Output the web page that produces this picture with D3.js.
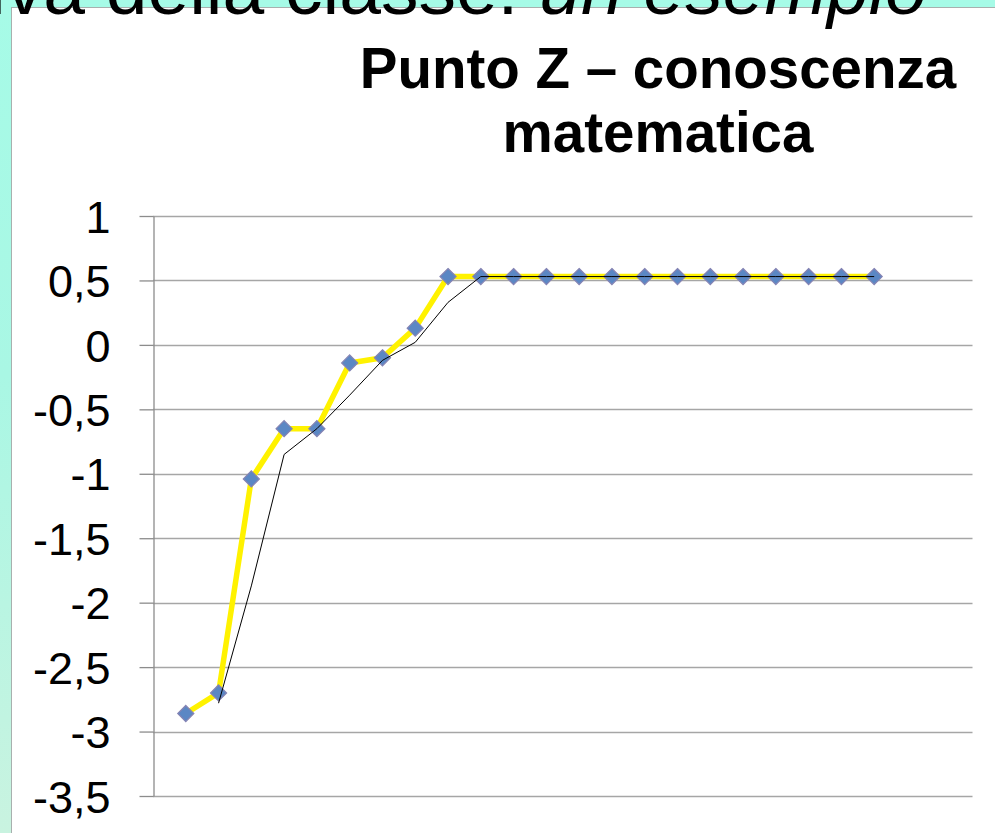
<!DOCTYPE html>
<html>
<head>
<meta charset="utf-8">
<script src="https://cdn.jsdelivr.net/npm/d3@7"></script>
<style>
    html, body { margin: 0; padding: 0; background: #fff; overflow: hidden; }
    svg { display: block; font-family: "Liberation Sans", Arial, sans-serif; }
</style>
</head>
<body>
<svg id="chart" width="995" height="833"></svg>
<script>
const width = 995,
    height = 833

// data (index 0 and 23..25 are empty slots on the category axis)
const categories = d3.range(0, 26)
const puntoZ = [null, -2.86, -2.70, -1.04, -0.65, -0.65, -0.14, -0.10, 0.13, 0.53, 0.53, 0.53, 0.53,
    0.53, 0.53, 0.53, 0.53, 0.53, 0.53, 0.53, 0.53, 0.53, 0.53, null, null, null]
// thin black trend line (2-period moving average as drawn)
const trend = [null, null, -2.78, -1.87, -0.85, -0.65, -0.39, -0.12, 0.02, 0.33, 0.53, 0.53, 0.53,
    0.53, 0.53, 0.53, 0.53, 0.53, 0.53, 0.53, 0.53, 0.53, 0.53, null, null, null]
const yTicks = [1, 0.5, 0, -0.5, -1, -1.5, -2, -2.5, -3, -3.5]
const titleLines = ['Punto Z \u2013 conoscenza', 'matematica']

const plot = { left: 153, right: 972.5, top: 216, bottom: 796 }

const svg = d3.select('#chart')

// slide background: cyan band at top and left
const defs = svg.append('defs')
const grad = defs.append('linearGradient')
    .attr('id', 'sideband')
    .attr('x1', 0).attr('y1', 0).attr('x2', 0).attr('y2', 1)
grad.append('stop').attr('offset', 0).attr('stop-color', '#a6fbe7')
grad.append('stop').attr('offset', 0.45).attr('stop-color', '#a9f7e4')
grad.append('stop').attr('offset', 1).attr('stop-color', '#c9f3e0')

svg.append('rect')
    .attr('x', 0).attr('y', 0)
    .attr('width', width).attr('height', height)
    .attr('fill', 'url(#sideband)')
svg.append('rect')
    .attr('x', 11.5).attr('y', 7.5)
    .attr('width', width).attr('height', height)
    .attr('fill', '#fff')
    .attr('stroke', '#a8b0ae')
    .attr('stroke-width', 1)

// slide heading, cut off at the top
const heading = svg.append('text')
    .attr('x', -11)
    .attr('y', 14)
    .attr('font-size', 75)
    .attr('fill', '#000')
heading.append('tspan').text('iva della classe: ')
heading.append('tspan').attr('font-style', 'italic').text('un esempio')

// chart title
svg.append('g')
    .selectAll('text')
    .data(titleLines)
    .enter()
    .append('text')
    .attr('x', 658)
    .attr('y', (d, i) => 88 + i * 64)
    .attr('text-anchor', 'middle')
    .attr('font-size', 56.5)
    .attr('font-weight', 'bold')
    .attr('fill', '#000')
    .text(d => d)

const x = d3.scaleLinear()
    .domain([0, categories.length - 1])
    .range([plot.left, plot.right])

const y = d3.scaleLinear()
    .domain([-3.5, 1])
    .range([plot.bottom, plot.top])

// gridlines
svg.append('g')
    .selectAll('line')
    .data(yTicks)
    .enter()
    .append('line')
    .attr('x1', plot.left)
    .attr('x2', plot.right)
    .attr('y1', d => Math.round(y(d)) + 0.5)
    .attr('y2', d => Math.round(y(d)) + 0.5)
    .attr('stroke', '#a6a6a6')
    .attr('stroke-width', 1.3)

// y axis
const yAxis = d3.axisLeft(y)
    .tickValues(yTicks)
    .tickSize(14)
    .tickPadding(29)
    .tickSizeOuter(0)
    .tickFormat(d => String(d).replace('.', ','))

const gy = svg.append('g')
    .attr('transform', `translate(${plot.left + 0.5}, 0)`)
    .call(yAxis)
gy.select('path.domain').attr('stroke', '#8c8c8c').attr('stroke-width', 1.3)
gy.selectAll('.tick line').attr('stroke', '#8c8c8c').attr('stroke-width', 1.3)
gy.selectAll('.tick text')
    .attr('font-size', 45)
    .attr('font-family', '"Liberation Sans", Arial, sans-serif')
    .attr('fill', '#000')
    .attr('dy', '0.36em')

const points = categories
    .map(i => ({ i: i, v: puntoZ[i], t: trend[i] }))

// main series
const line = d3.line()
    .defined(d => d.v !== null)
    .x(d => x(d.i))
    .y(d => y(d.v))

svg.append('path')
    .datum(points)
    .attr('d', line)
    .attr('fill', 'none')
    .attr('stroke', '#fff200')
    .attr('stroke-width', 5.5)
    .attr('stroke-linejoin', 'round')

// diamond markers
svg.append('g')
    .selectAll('path')
    .data(points.filter(d => d.v !== null))
    .enter()
    .append('path')
    .attr('d', d3.symbol().type(d3.symbolDiamond2).size(165))
    .attr('transform', d => `translate(${x(d.i)}, ${y(d.v)})`)
    .attr('fill', '#5b87c4')
    .attr('stroke', '#8583b3')
    .attr('stroke-width', 1.2)

// thin black trend line
const trendLine = d3.line()
    .defined(d => d.t !== null)
    .x(d => x(d.i))
    .y(d => y(d.t))

svg.append('path')
    .datum(points)
    .attr('d', trendLine)
    .attr('fill', 'none')
    .attr('stroke', '#000')
    .attr('stroke-width', 1)
</script>
</body>
</html>
